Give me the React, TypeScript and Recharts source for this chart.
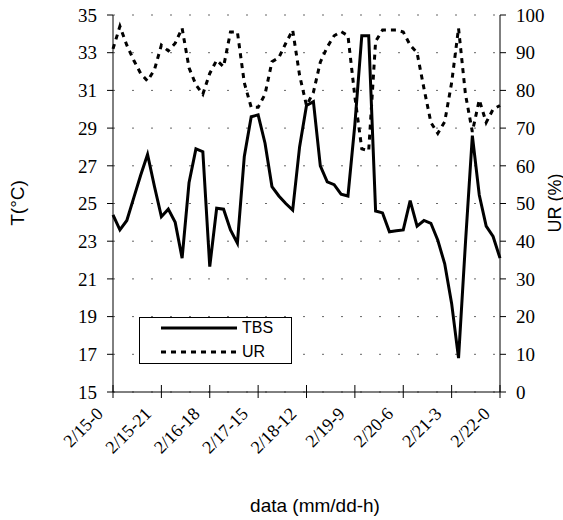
import React from 'react';
import { LineChart, Line, XAxis, YAxis, CartesianGrid, Legend } from 'recharts';

// air temperature (TBS, °C) every 3 hours
const tbs = [
  24.4, 23.6, 24.1, 25.3, 26.5, 27.6, 25.9, 24.3, 24.7, 24.0,
  22.1, 26.1, 27.9, 27.75, 21.65, 24.75, 24.7, 23.6, 22.9, 27.5,
  29.6, 29.7, 28.2, 25.9, 25.4, 25.0, 24.65, 28.0, 30.2, 30.4,
  27.0, 26.15, 26.0, 25.5, 25.4, 29.2, 33.9, 33.9, 24.6, 24.5,
  23.5, 23.55, 23.6, 25.15, 23.8, 24.1, 23.95, 23.05, 21.8, 19.7,
  16.8, 22.9, 28.6, 25.45, 23.8, 23.25, 22.1,
];

// relative humidity (UR, %)
const ur = [
  91, 97, 92, 88, 84.5, 82.5, 85.5, 92, 90.5, 92.5,
  96.5, 86, 81.5, 79, 84.5, 88, 86.3, 95.5, 95.5, 82,
  75.5, 75.5, 79, 87.6, 88.7, 92.5, 96, 84, 76, 79.5,
  87.5, 91.5, 94.5, 95.6, 94.5, 78.3, 64.5, 64, 93, 96,
  96, 96, 95.5, 92, 90, 80.5, 71.5, 68.6, 71.7, 82,
  96.5, 79, 69, 77.5, 71.5, 75, 76,
];

const tickHours = [0, 21, 42, 63, 84, 105, 126, 147, 168];
const tickLabels = ['2/15-0', '2/15-21', '2/16-18', '2/17-15', '2/18-12', '2/19-9', '2/20-6', '2/21-3', '2/22-0'];
const tTicks = [15, 17, 19, 21, 23, 25, 27, 29, 31, 33, 35];
const urTicks = [0, 10, 20, 30, 40, 50, 60, 70, 80, 90, 100];

const data = tbs.map((t, i) => ({ h: i * 3, tbs: t, ur: ur[i] }));

const serif = 'Liberation Serif';
const sans = 'Liberation Sans';

const DateTick = (props: any) => {
  const { x, y, payload } = props;
  const i = tickHours.indexOf(payload.value);
  const ax = x - 9;
  const ay = y + 23;
  return (
    <g>
      <line x1={x} x2={x} y1={y - 7} y2={y + 6} stroke="#000" />
      <text
        x={ax}
        y={ay}
        transform={`rotate(-45 ${ax} ${ay})`}
        textAnchor="end"
        style={{ fontFamily: serif, fontSize: 18 }}
        fill="#000"
      >
        {tickLabels[i]}
      </text>
    </g>
  );
};

const LegendBox = () => (
  <div
    style={{
      width: 153,
      height: 47,
      border: '1.5px solid #000',
      boxSizing: 'border-box',
      background: '#fff',
    }}
  >
    <svg width={150} height={44} style={{ display: 'block' }}>
      <line x1={21} x2={97} y1={10} y2={10} stroke="#000" strokeWidth={3} />
      <text x={102} y={15} style={{ fontFamily: sans, fontSize: 16 }} fill="#000">TBS</text>
      <line x1={21} x2={97} y1={34} y2={34} stroke="#000" strokeWidth={3} strokeDasharray="5 5" />
      <text x={102} y={39} style={{ fontFamily: sans, fontSize: 16 }} fill="#000">UR</text>
    </svg>
  </div>
);

export default function App() {
  return (
    <div style={{ position: 'absolute', left: 0, top: 0, width: 563, height: 520, background: '#fff', fontFamily: serif }}>
      <LineChart width={563} height={520} data={data} margin={{ top: 15, right: 13, bottom: 28, left: 63 }}>
        <CartesianGrid yAxisId="t" vertical={false} stroke="#666" strokeDasharray="2 17" />
        <XAxis
          dataKey="h"
          type="number"
          domain={[0, 168]}
          ticks={tickHours}
          interval={0}
          height={100}
          tickSize={0}
          tickMargin={0}
          tickLine={false}
          axisLine={{ stroke: '#000' }}
          tick={<DateTick />}
        />
        <YAxis
          yAxisId="t"
          domain={[15, 35]}
          ticks={tTicks}
          interval={0}
          width={50}
          tickSize={6}
          tickMargin={10}
          axisLine={{ stroke: '#000' }}
          tickLine={{ stroke: '#000' }}
          tick={{ fill: '#000', fontSize: 19, style: { fontFamily: serif } }}
        />
        <YAxis
          yAxisId="ur"
          orientation="right"
          domain={[0, 100]}
          ticks={urTicks}
          interval={0}
          width={50}
          tickSize={6}
          tickMargin={10}
          axisLine={{ stroke: '#000' }}
          tickLine={{ stroke: '#000' }}
          tick={{ fill: '#000', fontSize: 19, style: { fontFamily: serif } }}
        />
        <Legend
          layout="horizontal"
          verticalAlign="middle"
          align="center"
          wrapperStyle={{ left: 139, top: 317, width: 153, height: 47 }}
          content={() => <LegendBox />}
        />
        <Line
          yAxisId="t"
          type="linear"
          dataKey="tbs"
          stroke="#000"
          strokeWidth={3}
          dot={false}
          isAnimationActive={false}
        />
        <Line
          yAxisId="ur"
          type="linear"
          dataKey="ur"
          stroke="#000"
          strokeWidth={3}
          strokeDasharray="5 5"
          dot={false}
          isAnimationActive={false}
        />
      </LineChart>
      <div
        style={{
          position: 'absolute', left: 18, top: 203, transform: 'translate(-50%, -50%) rotate(-90deg)',
          fontFamily: sans, fontSize: 19, whiteSpace: 'nowrap',
        }}
      >
        T(°C)
      </div>
      <div
        style={{
          position: 'absolute', left: 555, top: 203, transform: 'translate(-50%, -50%) rotate(-90deg)',
          fontFamily: sans, fontSize: 18, whiteSpace: 'nowrap',
        }}
      >
        UR (%)
      </div>
      <div
        style={{
          position: 'absolute', left: 315, top: 506, transform: 'translate(-50%, -50%)',
          fontFamily: sans, fontSize: 19, whiteSpace: 'nowrap',
        }}
      >
        data (mm/dd-h)
      </div>
    </div>
  );
}
